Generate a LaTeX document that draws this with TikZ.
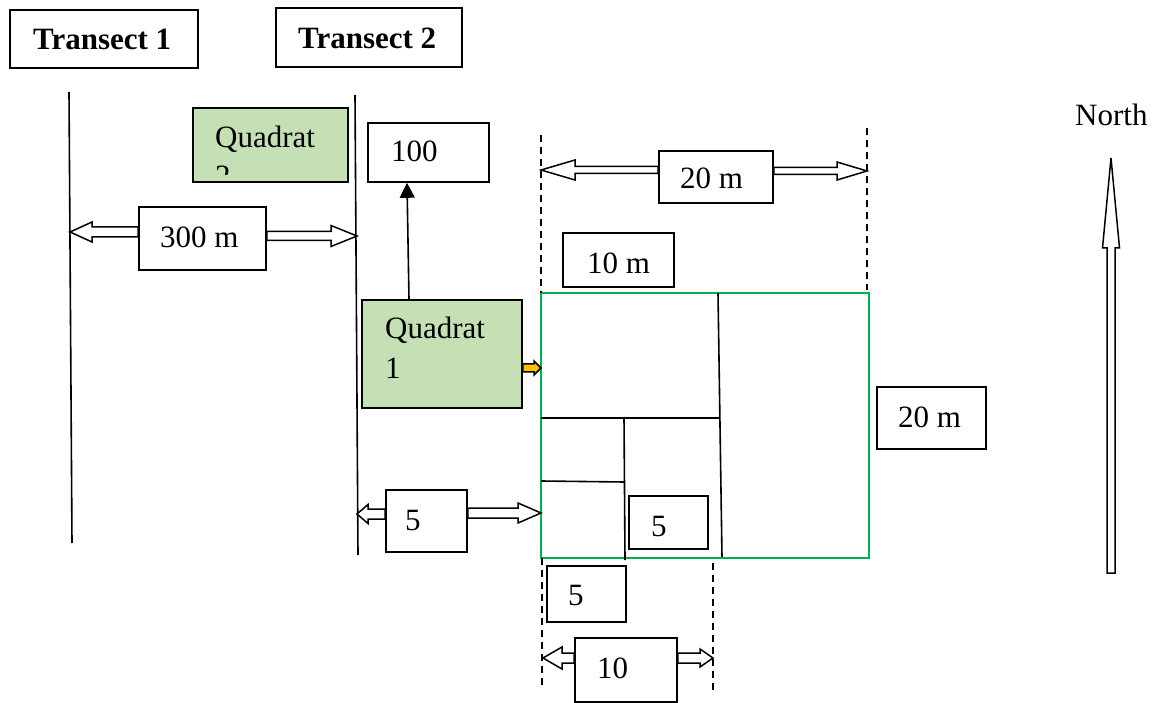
\documentclass[tikz,border=0pt]{standalone}
\usepackage{fontspec}
\setmainfont{Liberation Serif}
\usetikzlibrary{calc,arrows.meta}
\definecolor{qgreen}{RGB}{197,224,180}
\definecolor{sqgreen}{RGB}{0,176,80}
\definecolor{orangefill}{RGB}{255,192,0}
\newcommand\blkarrow[6][white]{%
  \draw[fill=#1, line width=1.5pt, line join=miter]
    let \p1=(#2), \p2=(#3),
        \n1={atan2(\y2-\y1,\x2-\x1)},
        \n2={veclen(\x2-\x1,\y2-\y1)} in
    [shift={(\p1)}, rotate=\n1]
    (0,-#4) -- ({\n2-#6},-#4) -- ({\n2-#6},-#5) -- ({\n2},0)
    -- ({\n2-#6},#5) -- ({\n2-#6},#4) -- (0,#4) -- cycle;}
\tikzset{
  box/.style={draw, line width=1.6pt, inner sep=0pt, fill=white},
  quad/.style={box, fill=qgreen},
  txt/.style={anchor=base west, inner sep=0pt},
  line/.style={line width=1.6pt},
  dline/.style={line width=1.4pt, dash pattern=on 7pt off 5pt},
}
\begin{document}
\begin{tikzpicture}[x=1pt, y=-1pt, font=\fontsize{31}{39}\selectfont]
\useasboundingbox (0,0) rectangle (1157,703);

% transect lines
\coordinate (t1top) at (69,92);
\coordinate (t1bot) at (72,543);
\coordinate (t2top) at (355,95);
\coordinate (t2bot) at (358,555);
\draw[line] (t1top) -- (t1bot);
\draw[line] (t2top) -- (t2bot);

% title boxes
\node[box, minimum width=188, minimum height=58] (tr1) at (104,39) {};
\node[txt, font=\fontsize{31}{39}\selectfont\bfseries] (tr1t) at (33,50) {Transect 1};
\node[box, minimum width=186, minimum height=59] (tr2) at (369,37.5) {};
\node[txt, font=\fontsize{31}{39}\selectfont\bfseries] (tr2t) at (298,49) {Transect 2};

% quadrat 2 (text cut off)
\node[quad, minimum width=155, minimum height=74] (q2) at (270.5,145) {};
\begin{scope}
  \clip ($(q2.south west)+(0,-8)$) rectangle (q2.north east);
  \node[txt] (q2a) at (215,148) {Quadrat};
  \node[txt] (q2b) at (215,187) {2};
\end{scope}

% 100 box and arrow from quadrat 1
\node[box, minimum width=121, minimum height=59] (n100) at (428.5,152.5) {};
\node[txt] (n100t) at (391,162) {100};

% 300 m
\node[box, minimum width=127, minimum height=63] (n300) at (202.5,238.5) {};
\node[txt] (n300t) at (160,248) {300 m};
\coordinate (t1a) at (70,232);
\coordinate (t2a) at (357,236);
\blkarrow{n300.west |- t1a}{t1a}{5}{10}{22}
\blkarrow{n300.east |- t2a}{t2a}{4.5}{10.5}{26}

% quadrat 1
\node[quad, minimum width=160, minimum height=108] (q1) at (442,354) {};
\node[txt] (q1a) at (385,339) {Quadrat};
\node[txt] (q1b) at (385,378) {1};
\draw[line, -{Triangle[length=15pt,width=15pt]}] ($(q1.north)+(-33,0)$) -- ($(n100.south)+(-21.5,0)$);

% green square
\node[draw=sqgreen, line width=2.2pt, minimum width=328, minimum height=265, inner sep=0pt] (sq) at (705,425.5) {};
\coordinate (v1a) at (718,293);
\coordinate (v1b) at (722,557);
\coordinate (h1a) at (541,418);
\coordinate (h1b) at (719,418);
\coordinate (v2a) at (624,417);
\coordinate (v2b) at (625,560);
\coordinate (h2a) at (541,481);
\coordinate (h2b) at (624,482);
\draw[line] (v1a) -- (v1b);
\draw[line] (h1a) -- (h1b);
\draw[line] (v2a) -- (v2b);
\draw[line] (h2a) -- (h2b);

% orange arrow
\coordinate (oa) at (541,368);
\blkarrow[orangefill]{q1.east |- oa}{oa}{4}{7}{7}

% dashed guides
\coordinate (d1a) at (541,135); \coordinate (d1b) at (541,293);
\coordinate (d2a) at (867,128); \coordinate (d2b) at (867,290);
\coordinate (d3a) at (542,558); \coordinate (d3b) at (542,687);
\coordinate (d4a) at (713,563); \coordinate (d4b) at (713,690);
\draw[dline] (d1a) -- (d1b);
\draw[dline] (d2a) -- (d2b);
\draw[dline] (d3a) -- (d3b);
\draw[dline] (d4a) -- (d4b);

% 20 m top
\node[box, minimum width=114, minimum height=52] (n20t) at (716,177) {};
\node[txt] (n20tt) at (680,189) {20 m};
\coordinate (d1m) at (541,170);
\coordinate (d2m) at (867,171);
\blkarrow{n20t.west |- d1m}{d1m}{3.5}{10}{34}
\blkarrow{n20t.east |- d2m}{d2m}{3.5}{9}{30}

% 10 m
\node[box, minimum width=111, minimum height=54] (n10m) at (618.5,260) {};
\node[txt] (n10mt) at (587,274) {10 m};

% 20 m right
\node[box, minimum width=109, minimum height=62] (n20r) at (931.5,418) {};
\node[txt] (n20rt) at (898,427) {20 m};

% 5 left
\node[box, minimum width=81, minimum height=62] (n5a) at (426.5,521) {};
\node[txt] (n5at) at (405,530) {5};
\coordinate (t2b5) at (357,514);
\coordinate (s5) at (541,513);
\blkarrow{n5a.west |- t2b5}{t2b5}{5}{9.5}{11}
\blkarrow{n5a.east |- s5}{s5}{5}{10}{23}

% 5 inside
\node[box, minimum width=79, minimum height=53] (n5in) at (668.5,522.5) {};
\node[txt] (n5int) at (651,536) {5};

% 5 below
\node[box, minimum width=79, minimum height=56] (n5b) at (586.5,594) {};
\node[txt] (n5bt) at (568,605) {5};

% 10 bottom
\node[box, minimum width=102, minimum height=64] (n10) at (626,670) {};
\node[txt] (n10t) at (597,678) {10};
\coordinate (d3m) at (543,658);
\coordinate (d4m) at (713,658);
\blkarrow{n10.west |- d3m}{d3m}{5}{11}{19}
\blkarrow{n10.east |- d4m}{d4m}{5}{9}{13}

% North
\node[txt] (north) at (1075,126) {North};
\coordinate (na) at (1111,573);
\coordinate (nb) at (1111,158);
\blkarrow{na}{nb}{4}{8.5}{90}
\end{tikzpicture}
\end{document}
